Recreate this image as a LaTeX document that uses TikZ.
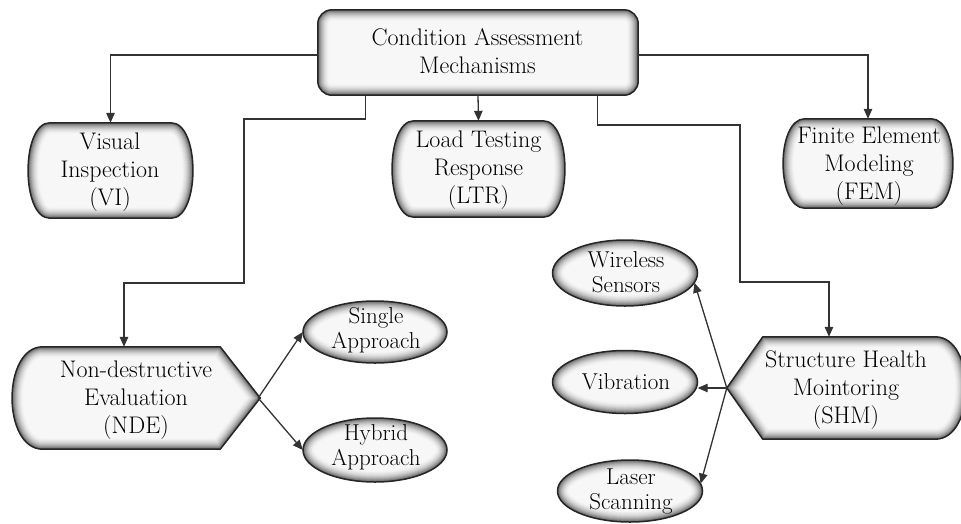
\documentclass[tikz,border=0pt]{standalone}
\usetikzlibrary{arrows.meta,shapes.geometric}
\pgfdeclarelayer{back}
\pgfdeclarelayer{bg}
\pgfsetlayers{back,bg,main}

\tikzset{
  holder/.style={shape=rectangle, draw=none, inner sep=0pt},
  ovalholder/.style={shape=ellipse, draw=none, inner sep=0pt},
  lbl/.style={align=center, inner sep=0pt, text=black, font=\fontsize{24}{28}\selectfont},
  olbl/.style={align=center, inner sep=0pt, text=black, font=\fontsize{23}{25}\selectfont},
  edge/.style={line width=1.5pt, draw=black!85},
  conn/.style={line width=1.3pt, draw=black!80, -{Triangle[length=10pt,width=8.5pt]}},
}

\newcommand\glowshape[1]{%
\begin{pgfonlayer}{bg}
\begin{scope}
\clip #1;
\fill[black!3] #1;
\foreach \i in {1,...,12}{%
 \pgfmathtruncatemacro\gw{2*(13-\i)}%
 \pgfmathtruncatemacro\gc{3+55*(\i/12)^2}%
 \draw[line width=\gw pt, draw=black!\gc] #1;}
\end{scope}
\draw[edge] #1;
\end{pgfonlayer}}

\begin{document}
\begin{tikzpicture}[x=1pt,y=-1pt]
\useasboundingbox (0,0) rectangle (961,523);
\begin{pgfonlayer}{back}
\fill[white] (0,0) rectangle (961,523);
\end{pgfonlayer}

% ---------- top box ----------
\node (top) [holder, minimum width=320pt, minimum height=85pt] at (478,52.5) {};
\node (toptext) [lbl] at (477.5,51) {Condition Assessment\\Mechanisms};
\glowshape{[rounded corners=14pt] (top.north west) rectangle (top.south east)}

% ---------- rounded-side boxes ----------
\node (vi) [holder, minimum width=121pt, minimum height=95pt] at (110.5,170.5) {};
\node (vitext) [lbl] at (110,172) {Visual\\Inspection\\(VI)};
\glowshape{(vi.north west) -- (vi.north east) .. controls +(29,0) and +(29,0) .. (vi.south east) -- (vi.south west) .. controls +(-29,0) and +(-29,0) .. (vi.north west) -- cycle}

\node (ltr) [holder, minimum width=129pt, minimum height=96pt] at (478.5,169) {};
\node (ltrtext) [lbl] at (478.5,170) {Load Testing\\Response\\(LTR)};
\glowshape{(ltr.north west) -- (ltr.north east) .. controls +(29,0) and +(29,0) .. (ltr.south east) -- (ltr.south west) .. controls +(-29,0) and +(-29,0) .. (ltr.north west) -- cycle}

\node (fem) [holder, minimum width=126pt, minimum height=89pt] at (868,163.5) {};
\node (femtext) [lbl] at (869,166) {Finite Element\\Modeling\\(FEM)};
\glowshape{(fem.north west) -- (fem.north east) .. controls +(29,0) and +(29,0) .. (fem.south east) -- (fem.south west) .. controls +(-29,0) and +(-29,0) .. (fem.north west) -- cycle}

% ---------- NDE ----------
\node (nde) [holder, minimum width=177pt, minimum height=102pt] at (131.5,398) {};
\coordinate (ndep) at ([xshift=40pt]nde.east);
\node (ndetext) [lbl] at (136,400) {Non-destructive\\Evaluation\\(NDE)};
\glowshape{(nde.north west) -- (nde.north east) -- (ndep) -- (nde.south east) -- (nde.south west) .. controls +(-41,0) and +(-41,0) .. (nde.north west) -- cycle}

% ---------- SHM ----------
\node (shm) [holder, minimum width=172pt, minimum height=102pt] at (849,388) {};
\coordinate (shmp) at ([xshift=-36pt]shm.west);
\node (shmtext) [lbl] at (846,390) {Structure Health\\Mointoring\\(SHM)};
\glowshape{(shm.north west) -- (shm.north east) .. controls +(41,0) and +(41,0) .. (shm.south east) -- (shm.south west) -- (shmp) -- cycle}

% ---------- ellipses ----------
\node (sa) [ovalholder, minimum width=144pt, minimum height=62pt] at (375,332) {};
\node (satext) [olbl] at (376,330) {Single\\Approach};
\glowshape{(sa.center) ellipse [x radius=72pt, y radius=31pt]}

\node (ha) [ovalholder, minimum width=144pt, minimum height=64pt] at (375,450) {};
\node (hatext) [olbl] at (376,447) {Hybrid\\Approach};
\glowshape{(ha.center) ellipse [x radius=72pt, y radius=32pt]}

\node (ws) [ovalholder, minimum width=145pt, minimum height=66pt] at (625,273) {};
\node (wstext) [olbl] at (626,272) {Wireless\\Sensors};
\glowshape{(ws.center) ellipse [x radius=72.5pt, y radius=33pt]}

\node (vb) [ovalholder, minimum width=145pt, minimum height=63pt] at (625,382) {};
\node (vbtext) [olbl] at (626,382) {Vibration};
\glowshape{(vb.center) ellipse [x radius=72.5pt, y radius=31.5pt]}

\node (ls) [ovalholder, minimum width=145pt, minimum height=62pt] at (630,491) {};
\node (lstext) [olbl] at (631,491) {Laser\\Scanning};
\glowshape{(ls.center) ellipse [x radius=72.5pt, y radius=31pt]}

% ---------- connectors ----------
\coordinate (n1) at (244,119);
\coordinate (n2) at (124,283);
\coordinate (s1) at (740,125);
\coordinate (s2) at (829,282);

\draw[conn] (top.west |- 0,55) -| (vi.north);
\draw[conn] (top.east |- 0,55) -| (fem.north);
\draw[conn] (top.south) -- (ltr.north);
\draw[conn] ([xshift=48pt]top.south west) |- (n1) |- (n2) -- (n2 |- nde.north);
\draw[conn] ([xshift=-41pt]top.south east) |- (s1) |- (s2) -- (s2 |- shm.north);

\draw[conn] ([xshift=-2pt]ndep) -- (sa.west);
\draw[conn] ([xshift=-2pt]ndep) -- (ha.west);

\draw[conn] (shmp) -- (ws.-8);
\draw[conn] (shmp) -- (vb.east |- shmp);
\draw[conn] (shmp) -- (ls.6);
\end{tikzpicture}
\end{document}
